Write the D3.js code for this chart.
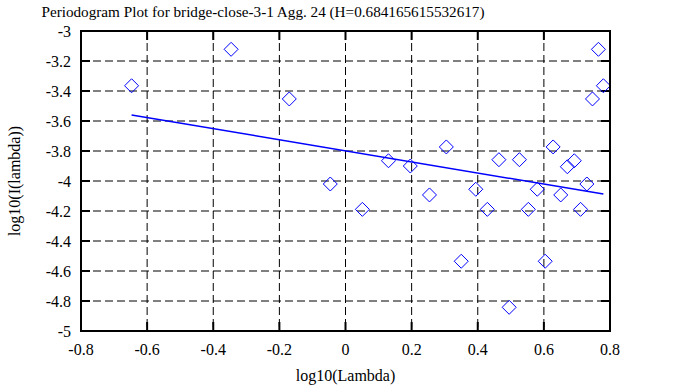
<!DOCTYPE html>
<meta charset="utf-8">
<style>
body { margin: 0; background: #fff; }
text { font-family: "Liberation Serif", "DejaVu Serif", serif; fill: #000; }
.grid line { stroke: #000; stroke-width: 1; stroke-dasharray: 8,4; }
</style>
<body>
<svg width="688" height="387"></svg>
</body>
<script src="https://d3js.org/d3.v7.min.js"></script>
<script>

// periodogram points, log10(lambda) vs log10(I(lambda))
var logLambda = [-0.647, -0.346, -0.170, -0.046, 0.051, 0.130, 0.196, 0.254, 0.305,
  0.350, 0.394, 0.429, 0.464, 0.495, 0.526, 0.553, 0.580, 0.604, 0.628, 0.651,
  0.671, 0.692, 0.711, 0.730, 0.747, 0.765, 0.780];
var logI = [-3.365, -3.122, -3.453, -4.02, -4.189, -3.865, -3.9, -4.093, -3.773,
  -4.535, -4.055, -4.189, -3.858, -4.842, -3.858, -4.189, -4.055, -4.535, -3.773, -4.093,
  -3.905, -3.865, -4.189, -4.02, -3.453, -3.122, -3.365];
// fitted line end points
var fitX = [-0.647, 0.780];
var fitY = [-3.56, -4.087];

var xTicks = [-0.8, -0.6, -0.4, -0.2, 0, 0.2, 0.4, 0.6, 0.8];
var yTicks = [-3, -3.2, -3.4, -3.6, -3.8, -4, -4.2, -4.4, -4.6, -4.8, -5];

var svg = d3.select("svg"),
    pLeft = 81, pRight = 610, pTop = 31, pBottom = 331;

var x = d3.scaleLinear().domain([-0.8, 0.8]).range([pLeft, pRight]);
var y = d3.scaleLinear().domain([-5, -3]).range([pBottom, pTop]);

// grid
var grid = svg.append("g").attr("class", "grid");
grid.selectAll(".gx").data(xTicks.slice(1, -1)).enter().append("line")
    .attr("x1", d => x(d)).attr("x2", d => x(d))
    .attr("y1", pTop).attr("y2", pBottom);
grid.selectAll(".gy").data(yTicks.slice(1, -1)).enter().append("line")
    .attr("y1", d => y(d)).attr("y2", d => y(d))
    .attr("x1", pLeft).attr("x2", pRight);

// ticks (inward, mirrored)
var ticks = svg.append("g").attr("stroke", "#000").attr("stroke-width", 2);
xTicks.forEach(function(d) {
  ticks.append("line").attr("x1", x(d)).attr("x2", x(d)).attr("y1", pBottom).attr("y2", pBottom - 9);
  ticks.append("line").attr("x1", x(d)).attr("x2", x(d)).attr("y1", pTop).attr("y2", pTop + 9);
});
yTicks.forEach(function(d) {
  ticks.append("line").attr("y1", y(d)).attr("y2", y(d)).attr("x1", pLeft).attr("x2", pLeft + 9);
  ticks.append("line").attr("y1", y(d)).attr("y2", y(d)).attr("x1", pRight).attr("x2", pRight - 9);
});

// tick labels
svg.append("g").selectAll("text").data(xTicks).enter().append("text")
    .attr("x", d => x(d)).attr("y", pBottom + 24)
    .attr("text-anchor", "middle").attr("font-size", 16)
    .text(d => String(d));
svg.append("g").selectAll("text").data(yTicks).enter().append("text")
    .attr("x", pLeft - 10).attr("y", d => y(d) + 6)
    .attr("text-anchor", "end").attr("font-size", 16)
    .text(d => String(d));

// fitted line
svg.append("path")
    .datum(d3.zip(fitX, fitY))
    .attr("fill", "none").attr("stroke", "#0000ff").attr("stroke-width", 1.5)
    .attr("d", d3.line().x(d => x(d[0])).y(d => y(d[1])));

// points
svg.append("g").selectAll("path").data(d3.zip(logLambda, logI)).enter().append("path")
    .attr("transform", d => "translate(" + x(d[0]) + "," + y(d[1]) + ")")
    .attr("d", "M0,-7L7,0L0,7L-7,0Z")
    .attr("fill", "none").attr("stroke", "#0000ff").attr("stroke-width", 1);

// frame
svg.append("rect")
    .attr("x", pLeft).attr("y", pTop).attr("width", pRight - pLeft).attr("height", pBottom - pTop)
    .attr("fill", "none").attr("stroke", "#000").attr("stroke-width", 2);

// titles
svg.append("text").attr("x", 263).attr("y", 17).attr("text-anchor", "middle")
    .attr("font-size", 15.2)
    .text("Periodogram Plot for bridge-close-3-1 Agg. 24 (H=0.684165615532617)");
svg.append("text").attr("x", (pLeft + pRight) / 2).attr("y", 381).attr("text-anchor", "middle")
    .attr("font-size", 16).text("log10(Lambda)");
svg.append("text").attr("transform", "translate(20," + (pTop + pBottom) / 2 + ") rotate(-90)")
    .attr("text-anchor", "middle").attr("font-size", 16).text("log10(I(lambda))");

</script>
